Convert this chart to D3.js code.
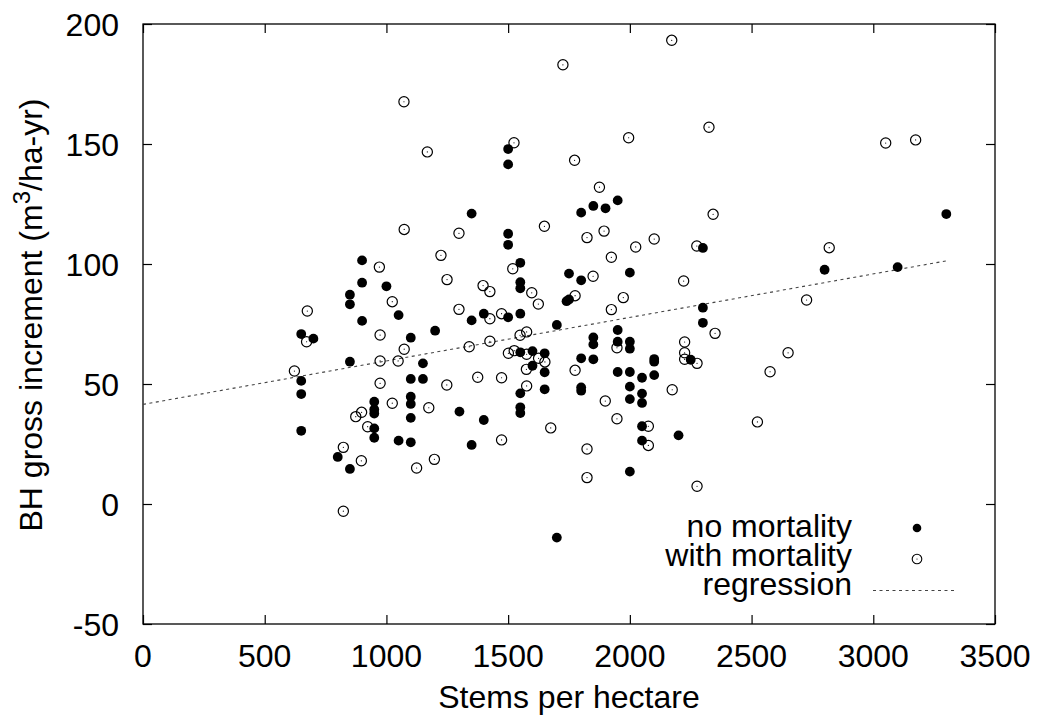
<!DOCTYPE html>
<html>
<head>
<meta charset="utf-8">
<script src="https://cdn.jsdelivr.net/npm/d3@7"></script>
<style>
  body { margin: 0; background: #fff; }
  text { font-family: "Liberation Sans", Arial, Helvetica, sans-serif; fill: #000; }
</style>
</head>
<body>
<div id="chart"></div>
<script>
// stems per hectare / gross increment, stands without mortality
var noMortX = [650, 650, 650, 650, 700, 800, 850, 850, 850, 850,
  900, 900, 900, 950, 950, 950, 950, 950, 1000, 1050,
  1050, 1100, 1100, 1100, 1100, 1100, 1100, 1150, 1150, 1200,
  1300, 1350, 1350, 1350, 1400, 1400, 1500, 1500, 1500, 1500,
  1500, 1550, 1550, 1550, 1550, 1550, 1550, 1550, 1550, 1600,
  1600, 1650, 1650, 1650, 1700, 1700, 1740, 1750, 1750, 1800,
  1800, 1800, 1800, 1800, 1850, 1850, 1850, 1850, 1900, 1950,
  1950, 1950, 1950, 2000, 2000, 2000, 2000, 2000, 2000, 2000,
  2050, 2050, 2050, 2050, 2050, 2100, 2100, 2100, 2200, 2250,
  2300, 2300, 2300, 2800, 3100, 3300];
var noMortY = [70.8, 51.3, 45.8, 30.5, 68.9, 19.6, 87.2, 83.2, 59.3, 14.6,
  101.5, 92.2, 76.3, 42.6, 39.4, 37.7, 31.5, 27.6, 90.7, 78.7,
  26.4, 69.3, 52.1, 44.7, 41.7, 35.9, 25.7, 58.6, 52.1, 72.2,
  38.5, 121, 76.5, 24.6, 79.3, 35, 147.9, 141.5, 112.6, 108,
  77.8, 100.5, 92.4, 89.9, 79.3, 63.2, 46.1, 40.3, 37.9, 63.7,
  57.6, 62.8, 54.9, 47.8, 74.6, -14, 84.5, 96, 85.2, 121.4,
  93.2, 60.7, 48.6, 47.2, 124.2, 69.4, 66.5, 60.3, 123.2, 126.5,
  72.5, 67.6, 55, 96.4, 67.6, 64.7, 55, 48.9, 43.7, 13.5,
  52.6, 46, 42.1, 32.4, 26.4, 60.4, 59.3, 53.7, 28.6, 60.1,
  106.7, 81.8, 75.5, 97.6, 98.7, 120.8];

// stands with mortality
var withMortX = [622, 672, 675, 823, 823, 874, 897, 898, 923, 971,
  974, 974, 974, 1024, 1024, 1048, 1072, 1073, 1073, 1124,
  1168, 1174, 1197, 1224, 1248, 1249, 1298, 1298, 1340, 1375,
  1397, 1425, 1425, 1425, 1473, 1473, 1473, 1501, 1519, 1524,
  1525, 1549, 1576, 1576, 1575, 1576, 1597, 1624, 1625, 1649,
  1651, 1675, 1725, 1773, 1775, 1775, 1824, 1824, 1824, 1849,
  1875, 1894, 1899, 1924, 1924, 1947, 1947, 1973, 1995, 2024,
  2076, 2076, 2100, 2172, 2174, 2221, 2225, 2225, 2225, 2275,
  2276, 2276, 2325, 2342, 2350, 2524, 2576, 2650, 2726, 2819,
  3051, 3174];
var withMortY = [55.4, 67.6, 80.4, 23.6, -3, 36.4, 18, 38.2, 32.2, 98.7,
  70.4, 59.6, 50.3, 84.3, 42, 59.6, 167.6, 114.4, 64.5, 15,
  146.7, 40.1, 18.6, 103.6, 49.6, 93.5, 112.8, 81.1, 65.5, 52.8,
  91, 88.5, 77.2, 67.8, 79.3, 52.6, 26.7, 62.8, 98, 150.5,
  63.9, 70.3, 71.7, 62.4, 56.1, 49.2, 88, 83.3, 60.7, 115.7,
  59.2, 31.7, 183, 143.2, 86.8, 55.7, 111, 22.9, 11, 94.9,
  132, 113.7, 42.9, 102.8, 81, 65.1, 35.5, 86, 152.6, 107.1,
  32.4, 24.4, 110.4, 193.2, 47.6, 92.9, 67.5, 63, 60.3, 107.5,
  58.6, 7.4, 157, 120.7, 71.1, 34.2, 55.1, 63, 85, 106.8,
  150.4, 151.7];

// regression line end points
var regX = [0, 3300];
var regY = [41.5, 101.3];

var xTicks = [0, 500, 1000, 1500, 2000, 2500, 3000, 3500];
var yTicks = [-50, 0, 50, 100, 150, 200];
var legendLabels = ["no mortality", "with mortality", "regression"];

var margin = { top: 24, right: 43, bottom: 99, left: 143 },
    width = 1038 - margin.left - margin.right,
    height = 723 - margin.top - margin.bottom;

var svg = d3.select("#chart")
  .append("svg")
  .attr("width", 1038)
  .attr("height", 723);

var g = svg.append("g")
  .attr("transform", "translate(" + margin.left + "," + margin.top + ")");

var x = d3.scaleLinear().domain([0, 3500]).range([0, width]);
var y = d3.scaleLinear().domain([-50, 200]).range([height, 0]);

// ticks on all four sides, pointing inward
var tickLen = 9;
function styleAxis(sel) {
  sel.select(".domain").remove();
  sel.selectAll(".tick line").attr("stroke", "#000").attr("stroke-width", 1.2);
  sel.selectAll(".tick text").remove();
}
g.append("g").attr("transform", "translate(0," + height + ")")
  .call(d3.axisBottom(x).tickValues(xTicks).tickSizeInner(-tickLen).tickSizeOuter(0))
  .call(styleAxis);
g.append("g")
  .call(d3.axisTop(x).tickValues(xTicks).tickSizeInner(-tickLen).tickSizeOuter(0))
  .call(styleAxis);
g.append("g")
  .call(d3.axisLeft(y).tickValues(yTicks).tickSizeInner(-tickLen).tickSizeOuter(0))
  .call(styleAxis);
g.append("g").attr("transform", "translate(" + width + ",0)")
  .call(d3.axisRight(y).tickValues(yTicks).tickSizeInner(-tickLen).tickSizeOuter(0))
  .call(styleAxis);

g.append("rect")
  .attr("width", width)
  .attr("height", height)
  .attr("fill", "none")
  .attr("stroke", "#000")
  .attr("stroke-width", 1.3);

// tick labels
g.selectAll(".xlab")
  .data(xTicks)
  .enter()
  .append("text")
  .attr("class", "xlab")
  .attr("x", function(d) { return x(d); })
  .attr("y", height + 43)
  .attr("text-anchor", "middle")
  .style("font-size", "32px")
  .text(function(d) { return d; });

g.selectAll(".ylab")
  .data(yTicks)
  .enter()
  .append("text")
  .attr("class", "ylab")
  .attr("x", -24)
  .attr("y", function(d) { return y(d) + 11.5; })
  .attr("text-anchor", "end")
  .style("font-size", "32px")
  .text(function(d) { return d; });

// axis titles
svg.append("text")
  .attr("x", margin.left + width / 2)
  .attr("y", 708)
  .attr("text-anchor", "middle")
  .style("font-size", "32px")
  .text("Stems per hectare");

var yt = svg.append("text")
  .attr("transform", "translate(42,315) rotate(-90)")
  .attr("text-anchor", "middle")
  .style("font-size", "32px");
yt.append("tspan").text("BH gross increment (m");
yt.append("tspan").attr("dy", -12).style("font-size", "24px").text("3");
yt.append("tspan").attr("dy", 12).text("/ha-yr)");

// regression line
var line = d3.line()
  .x(function(d) { return x(d[0]); })
  .y(function(d) { return y(d[1]); });

g.append("path")
  .datum(d3.zip(regX, regY))
  .attr("d", line)
  .attr("fill", "none")
  .attr("stroke", "#444")
  .attr("stroke-width", 1.1)
  .attr("stroke-dasharray", "3,3.5");

// filled points
g.selectAll(".nomort")
  .data(d3.zip(noMortX, noMortY))
  .enter()
  .append("circle")
  .attr("class", "nomort")
  .attr("cx", function(d) { return x(d[0]); })
  .attr("cy", function(d) { return y(d[1]); })
  .attr("r", 4.9)
  .attr("fill", "#000");

// open circles with a dot
var wm = g.selectAll(".withmort")
  .data(d3.zip(withMortX, withMortY))
  .enter()
  .append("g")
  .attr("class", "withmort")
  .attr("transform", function(d) { return "translate(" + x(d[0]) + "," + y(d[1]) + ")"; });
wm.append("circle").attr("r", 5.1).attr("fill", "none").attr("stroke", "#000").attr("stroke-width", 1.2);
wm.append("circle").attr("r", 0.6).attr("fill", "#000");

// legend
var legend = svg.append("g");
legend.selectAll("text")
  .data(legendLabels)
  .enter()
  .append("text")
  .attr("x", 852)
  .attr("y", function(d, i) { return 537 + i * 29; })
  .attr("text-anchor", "end")
  .style("font-size", "32px")
  .text(function(d) { return d; });

legend.append("circle").attr("cx", 917).attr("cy", 528).attr("r", 4.3).attr("fill", "#000");
legend.append("circle").attr("cx", 917).attr("cy", 559).attr("r", 4.8)
  .attr("fill", "none").attr("stroke", "#000").attr("stroke-width", 1.1);
legend.append("circle").attr("cx", 917).attr("cy", 559).attr("r", 0.6).attr("fill", "#000");
legend.append("line")
  .attr("x1", 873).attr("x2", 957)
  .attr("y1", 590.5).attr("y2", 590.5)
  .attr("stroke", "#444")
  .attr("stroke-width", 1.1)
  .attr("stroke-dasharray", "3,3.5");
</script>
</body>
</html>
